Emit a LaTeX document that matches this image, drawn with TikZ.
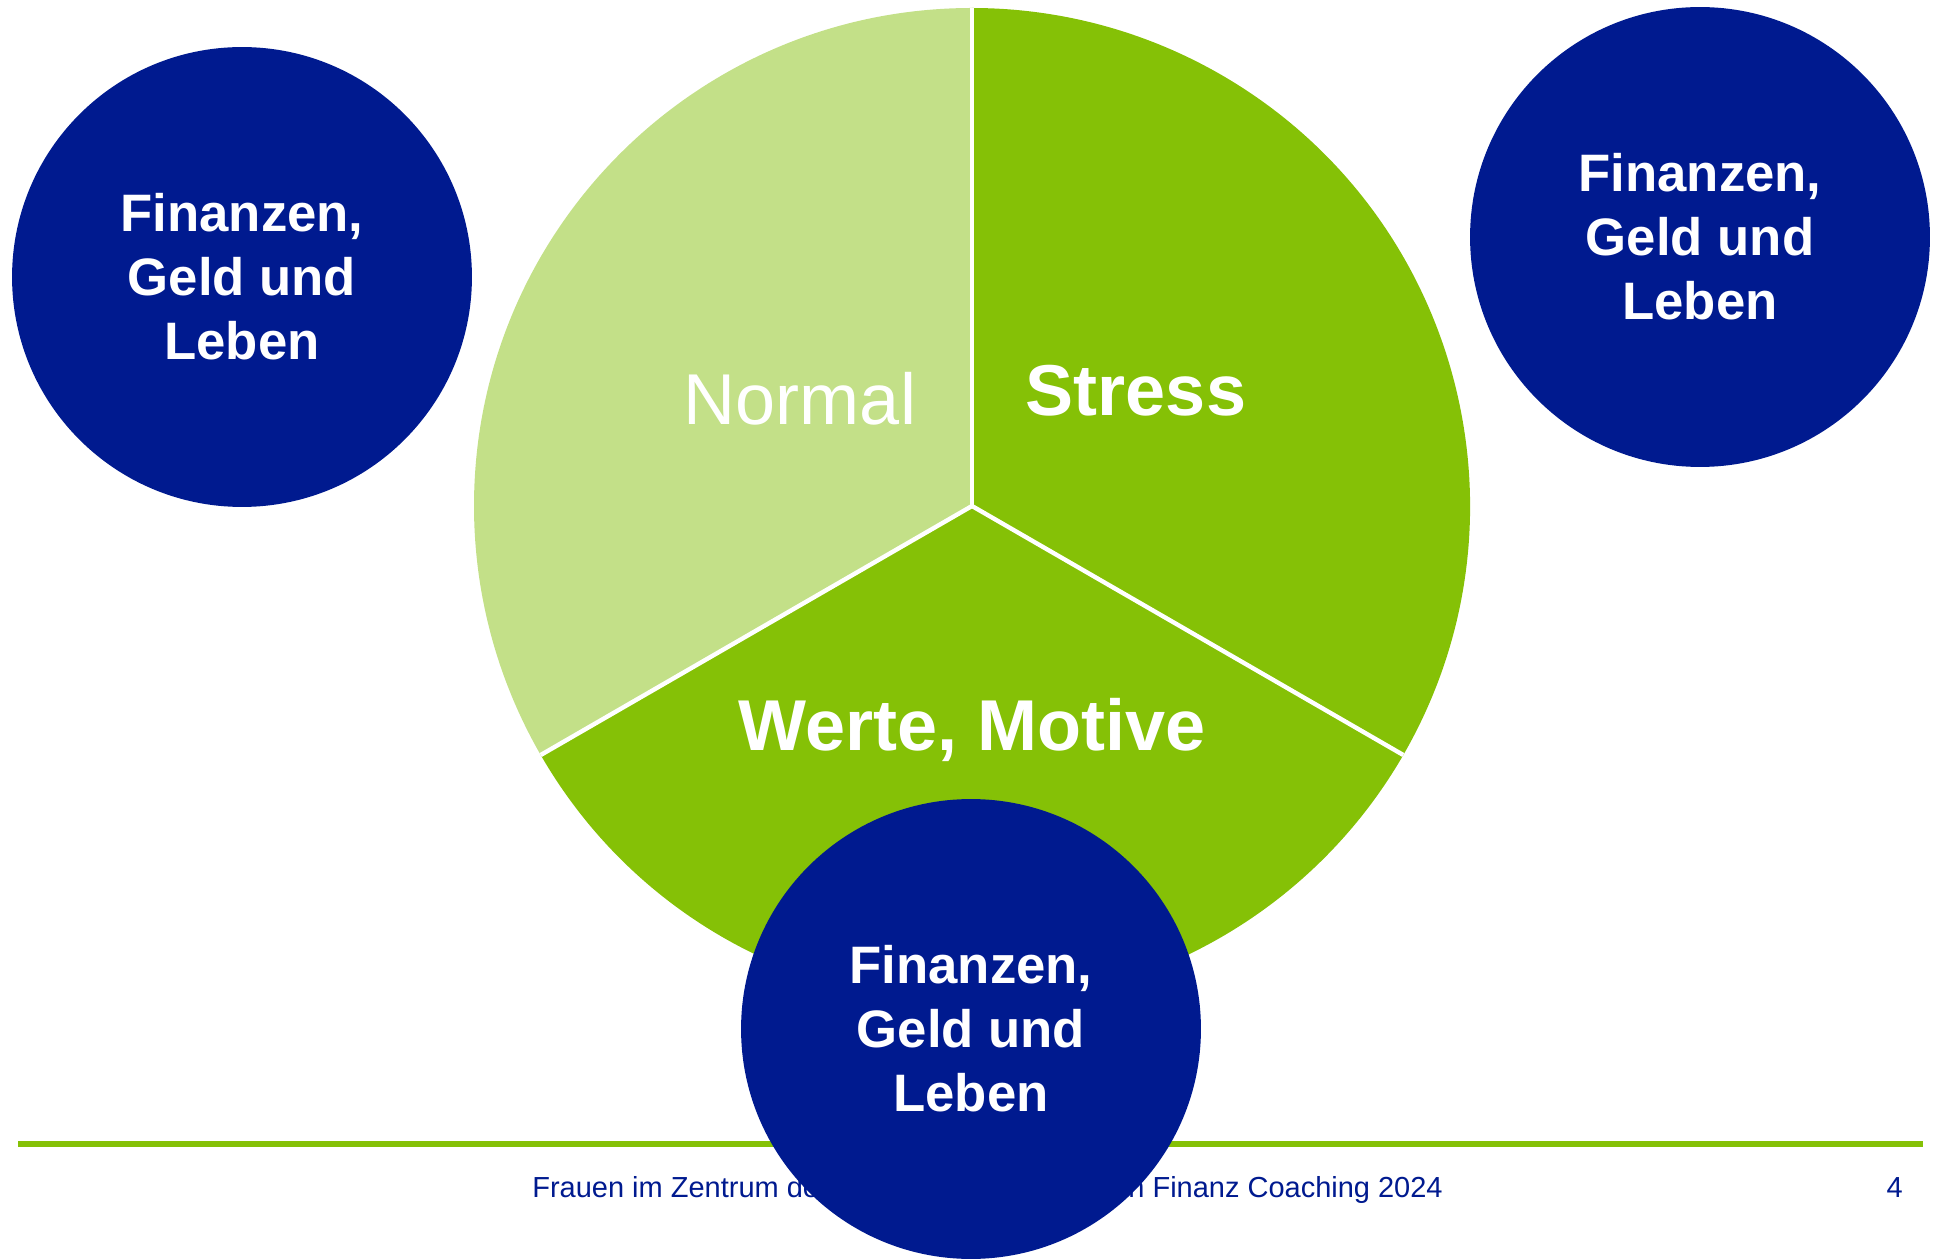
\documentclass[tikz,border=0pt]{standalone}
\usepackage{fontspec}
\setmainfont{Liberation Sans}
\usepackage{xcolor}
\usepackage{tikz}
\usetikzlibrary{positioning}

\definecolor{navy}{RGB}{0,26,143}
\definecolor{leaf}{RGB}{133,193,6}
\definecolor{paleleaf}{RGB}{195,224,136}

\begin{document}
\begin{tikzpicture}[x=0.02cm, y=0.02cm,
    bubble/.style={circle, fill=navy, text=white, minimum size=9.2cm, inner sep=0pt, align=center,
      font=\bfseries\fontsize{30}{36.4}\selectfont},
    spoke/.style={white, line width=2.5pt},
    slicelabel/.style={text=white, anchor=base, inner sep=0pt, font=\fontsize{41}{48}\selectfont},
    footer/.style={text=navy, inner sep=0pt, font=\fontsize{16.5}{20}\selectfont}]
    \useasboundingbox (0,0) rectangle (1937,1259);
    \coordinate (hub) at (972,753);
    % pie
    \fill[paleleaf] (hub) -- ++(90:498) arc[start angle=90, end angle=210, radius=498] -- cycle;
    \fill[leaf] (hub) -- ++(-30:498) arc[start angle=-30, end angle=90, radius=498] -- cycle;
    \fill[leaf] (hub) -- ++(210:498) arc[start angle=210, end angle=330, radius=498] -- cycle;
    \draw[spoke] (hub) -- ++(90:498);
    \draw[spoke] (hub) -- ++(210:498);
    \draw[spoke] (hub) -- ++(-30:498);
    \node[slicelabel] (normal) at (800,834) {Normal};
    \node[slicelabel, font=\bfseries\fontsize{41}{48}\selectfont] (stress) at (1136,843) {Stress};
    \node[slicelabel, font=\bfseries\fontsize{41}{48}\selectfont] (werte) at (972,509) {Werte, Motive};
    % footer
    \coordinate (rulestart) at (18,115);
    \coordinate (ruleend) at (1923,115);
    \draw[leaf, line width=3.4pt] (rulestart) -- (ruleend);
    \node[footer, anchor=base west] (footleft) at (532,62) {Frauen im Zentrum de};
    \node[footer, anchor=base east] (footright) at (1443,62) {n Finanz Coaching 2024};
    \node[footer, anchor=base east] (page) at (1903,62) {4};
    % circles
    \node[bubble] (topleft) at (242,982) {Finanzen,\\Geld und\\Leben};
    \node[bubble] (topright) at (1700,1022) {Finanzen,\\Geld und\\Leben};
    \node[bubble] (bottom) at (971,230) {Finanzen,\\Geld und\\Leben};
\end{tikzpicture}
\end{document}
